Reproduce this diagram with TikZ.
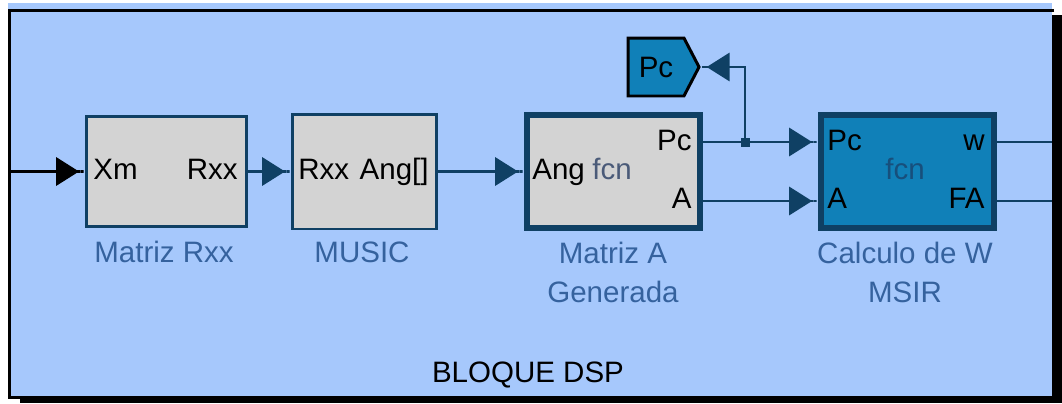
\documentclass[tikz,border=0pt]{standalone}
\usepackage{fontspec}
\setmainfont{Liberation Sans}
\usetikzlibrary{arrows.meta,shapes.symbols}
\definecolor{fondo}{HTML}{A6C8FC}
\definecolor{azulosc}{HTML}{0F4064}
\definecolor{gris}{HTML}{D3D3D3}
\definecolor{azulblq}{HTML}{1080B8}
\definecolor{nombre}{HTML}{35629E}
\definecolor{fcngris}{HTML}{4A5A78}
\definecolor{fcnazul}{HTML}{174F7C}

\begin{document}
\begin{tikzpicture}[
    x=0.02cm, y=-0.02cm, line join=miter,
    every node/.style={font=\fontsize{16.8pt}{22pt}\selectfont, inner sep=0pt},
    bloque/.style={rectangle, draw=azulosc, fill=gris, line width=1.7pt},
    bloquesel/.style={bloque, line width=3.4pt},
    port/.style={text=black},
    nombre/.style={text=nombre, align=center, anchor=base},
    sig/.style={azulosc, line width=1.5pt,
      -{Triangle[length=13pt,width=16pt]Rectangle[length=3.4pt,width=1.5pt]}},
    cable/.style={azulosc, line width=1.5pt},
    jdot/.style={rectangle, fill=azulosc, minimum size=0.18cm},
    tag/.style={signal, signal to=east, signal pointer angle=125, draw=black,
      line width=1.7pt, fill=azulblq, minimum width=1.42cm, minimum height=1.16cm}]
  \useasboundingbox (0,0) rectangle (1062,403);
  % Marco del subsistema
  \fill (20,15) rectangle (1062,403);
  \fill[fondo] (8,3) rectangle (1052,396);
  \draw[line width=1.7pt] (1054,10.5) -- (9.5,10.5) -- (9.5,397.5) -- (30,397.5);
  \node[anchor=base] (titulo) at (528,382) {BLOQUE DSP};
  % Bloques
  \node[bloque, minimum width=3.2cm, minimum height=2.2cm] (rxx) at (166.5,171.5) {};
  \node[bloque, minimum width=2.88cm, minimum height=2.3cm] (music) at (364.5,171.5) {};
  \node[bloquesel, minimum width=3.46cm, minimum height=2.26cm] (gen) at (613.5,171.5) {};
  \node[bloquesel, fill=azulblq, minimum width=3.46cm, minimum height=2.26cm] (msir) at (907.5,171.5) {};
  % Puertos
  \node[port, anchor=base west] (rxxXm) at (93,179) {Xm};
  \node[port, anchor=base east] (rxxR) at (238,179) {Rxx};
  \node[port, anchor=base west] (musR) at (298,179) {Rxx};
  \node[port, anchor=base east] (musA) at (429,179) {Ang[]};
  \node[port, anchor=base west] (genAng) at (532,179) {Ang};
  \node[text=fcngris, anchor=base west] (genFcn) at (592,179) {fcn};
  \node[port, anchor=base east] (genPc) at (692,150) {Pc};
  \node[port, anchor=base east] (genA) at (692,208) {A};
  \node[port, anchor=base west] (msPc) at (827,150) {Pc};
  \node[port, anchor=base west] (msA) at (827,208) {A};
  \node[port, anchor=base east] (msW) at (985,150) {w};
  \node[port, anchor=base east] (msFA) at (985,208) {FA};
  \node[text=fcnazul, anchor=base] (msFcn) at (905,179) {fcn};
  % Nombres
  \node[nombre] (nRxx) at (164,262) {Matriz Rxx};
  \node[nombre] (nMus) at (362,262) {MUSIC};
  \node[nombre] (nGen) at (613,302) {Matriz A\\Generada};
  \node[nombre] (nMs) at (905,302) {Calculo de W\\MSIR};
  % Etiqueta Goto
  \node[tag] (tagPc) at (656,67) {Pc};
  % Conexiones
  \coordinate (xin) at (11,171.5);
  \coordinate (wout) at (1052,142);
  \coordinate (faout) at (1052,201);
  \node[jdot] (jn) at (745,142) {};
  \draw[sig, black] (xin) -- (rxx.west);
  \draw[sig] (rxx.east) -- (music.west);
  \draw[sig] (music.east) -- (gen.west);
  \draw[sig] (gen.east |- jn) -- (msir.west |- jn);
  \draw[sig] (gen.east |- faout) -- (msir.west |- faout);
  \draw[sig] (jn.center) |- (tagPc.east);
  \draw[cable] (msir.east |- wout) -- (wout);
  \draw[cable] (msir.east |- faout) -- (faout);
\end{tikzpicture}
\end{document}
